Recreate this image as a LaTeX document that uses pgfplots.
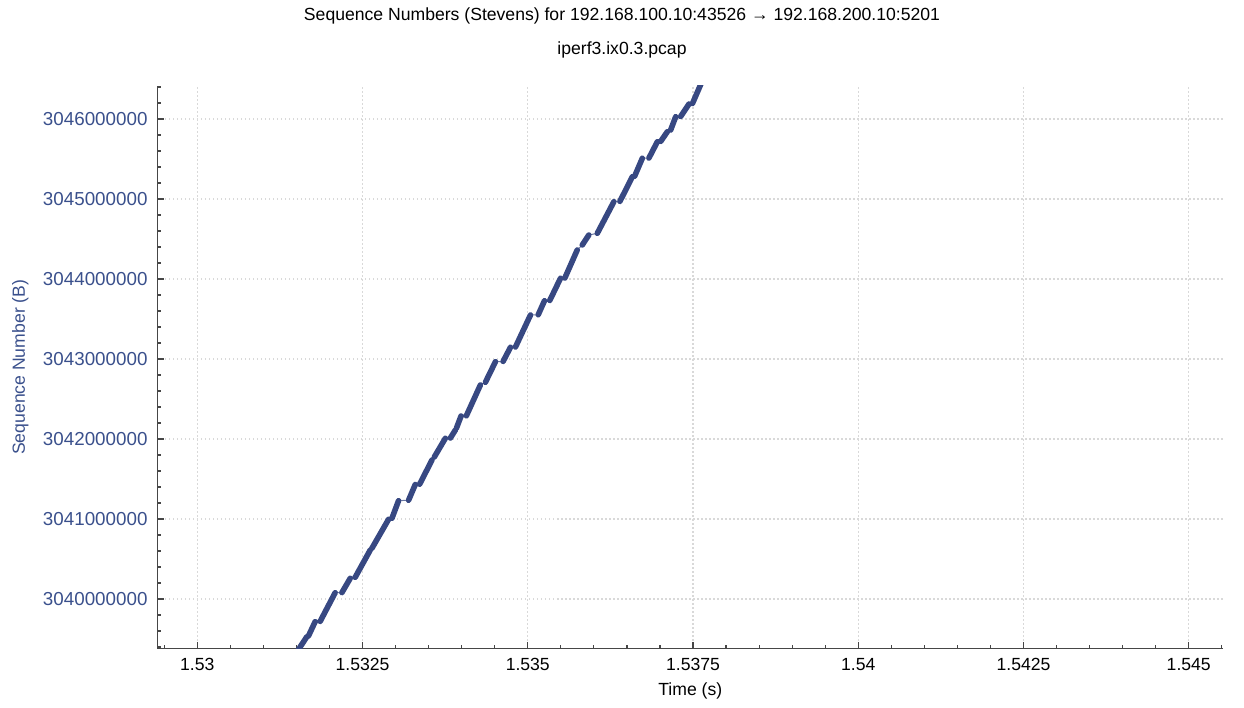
\documentclass[border=0pt]{standalone}
\usepackage{pgfplots}
\pgfplotsset{compat=1.18}
\usepackage{pgfplotstable}
\usepackage{fontspec}
\setmainfont{Liberation Sans}
\definecolor{seqblue}{RGB}{55,72,130}
\definecolor{lblblue}{RGB}{58,80,140}
\definecolor{axgray}{RGB}{70,70,70}
\pgfplotstableread{
x y
1.531526 3039362500
1.531658 3039528750
nan nan
1.531682 3039537500
1.531783 3039716250
nan nan
1.531859 3039720000
1.532086 3040078750
nan nan
1.532188 3040080000
1.532314 3040258750
nan nan
1.532389 3040271250
1.532617 3040612500
nan nan
1.532642 3040633750
1.532894 3040996250
nan nan
1.532945 3041008750
1.533045 3041228750
nan nan
1.533197 3041235000
1.533298 3041431250
nan nan
1.533364 3041435000
1.533551 3041737500
nan nan
1.533586 3041775000
1.533753 3042008750
nan nan
1.533829 3042012000
1.533905 3042112500
nan nan
1.533920 3042133750
1.533991 3042287500
nan nan
1.534071 3042290000
1.534283 3042675000
nan nan
1.534359 3042708750
1.534511 3042966250
nan nan
1.534627 3042970000
1.534738 3043146250
nan nan
1.534814 3043150000
1.535041 3043550000
nan nan
1.535158 3043553000
1.535253 3043728750
nan nan
1.535333 3043732000
1.535495 3044008750
nan nan
1.535561 3044012000
1.535748 3044362500
nan nan
1.535824 3044425000
1.535924 3044550000
nan nan
1.536052 3044571250
1.536303 3044966250
nan nan
1.536394 3044970000
1.536582 3045278750
nan nan
1.536617 3045285000
1.536733 3045508750
nan nan
1.536833 3045512000
1.536961 3045716250
nan nan
1.537011 3045720000
1.537112 3045841250
nan nan
1.537162 3045862500
1.537238 3046028750
nan nan
1.537314 3046032000
1.537439 3046187500
nan nan
1.537491 3046192000
1.537647 3046490000
}\bursts
\begin{document}
\begin{tikzpicture}
\useasboundingbox (-78.65bp,-29.65bp) rectangle (543.35bp,324.35bp);
\begin{axis}[
  at={(0,0)}, anchor=south west, scale only axis,
  width=533bp, height=281.35bp,
  xmin=1.529395, xmax=1.545523,
  ymin=3039378750, ymax=3046412500,
  scaled x ticks=false, scaled y ticks=false,
  axis lines*=left,
  axis line style={axgray, line width=0.75bp},
  every tick/.style={axgray, line width=0.6bp},
  tick align=inside,
  major tick length=3.6bp, minor tick length=1.8bp,
  xtick={1.53,1.5325,1.535,1.5375,1.54,1.5425,1.545},
  xticklabels={1.53,1.5325,1.535,1.5375,1.54,1.5425,1.545},
  minor xtick={1.5295,1.5305,1.531,1.5315,1.532,1.533,1.5335,1.534,1.5345,1.5355,1.536,1.5365,1.537,1.538,1.5385,1.539,1.5395,1.5405,1.541,1.5415,1.542,1.543,1.5435,1.544,1.5445,1.5455},
  ytick={3040000000,3041000000,3042000000,3043000000,3044000000,3045000000,3046000000},
  yticklabels={3040000000,3041000000,3042000000,3043000000,3044000000,3045000000,3046000000},
  minor ytick={3039400000,3039600000,3039800000,3040200000,3040400000,3040600000,3040800000,3041200000,3041400000,3041600000,3041800000,3042200000,3042400000,3042600000,3042800000,3043200000,3043400000,3043600000,3043800000,3044200000,3044400000,3044600000,3044800000,3045200000,3045400000,3045600000,3045800000,3046200000,3046400000},
  xmajorgrids, ymajorgrids,
  grid style={black!15, line width=0.6bp, dash pattern=on 0.6bp off 1.4bp},
  xticklabel style={font=\fontsize{8.8bp}{10bp}\selectfont, text=black, anchor=north, inner sep=0pt, yshift=-4.8bp},
  yticklabel style={font=\fontsize{9.4bp}{11bp}\selectfont, text=lblblue, anchor=east, inner sep=0pt, xshift=-4.7bp},
]
\addplot[seqblue!75, line width=0.5bp, unbounded coords=discard] table[x=x,y=y] {\bursts};
\addplot[seqblue, line width=2.8bp, line cap=round, unbounded coords=jump] table[x=x,y=y] {\bursts};
\end{axis}
\node[anchor=base, inner sep=0pt] at (232.35bp,314bp) {\fontsize{8.8bp}{10bp}\selectfont Sequence Numbers (Stevens) for 192.168.100.10:43526 → 192.168.200.10:5201};
\node[anchor=base, inner sep=0pt] at (232.35bp,297.2bp) {\fontsize{8.8bp}{10bp}\selectfont iperf3.ix0.3.pcap};
\node[anchor=base, inner sep=0pt] at (266.5bp,-23.15bp) {\fontsize{8.8bp}{10bp}\selectfont Time (s)};
\node[anchor=base, inner sep=0pt, rotate=90, text=lblblue] at (-66.15bp,140.7bp) {\fontsize{8.8bp}{10bp}\selectfont Sequence Number (B)};
\end{tikzpicture}
\end{document}
